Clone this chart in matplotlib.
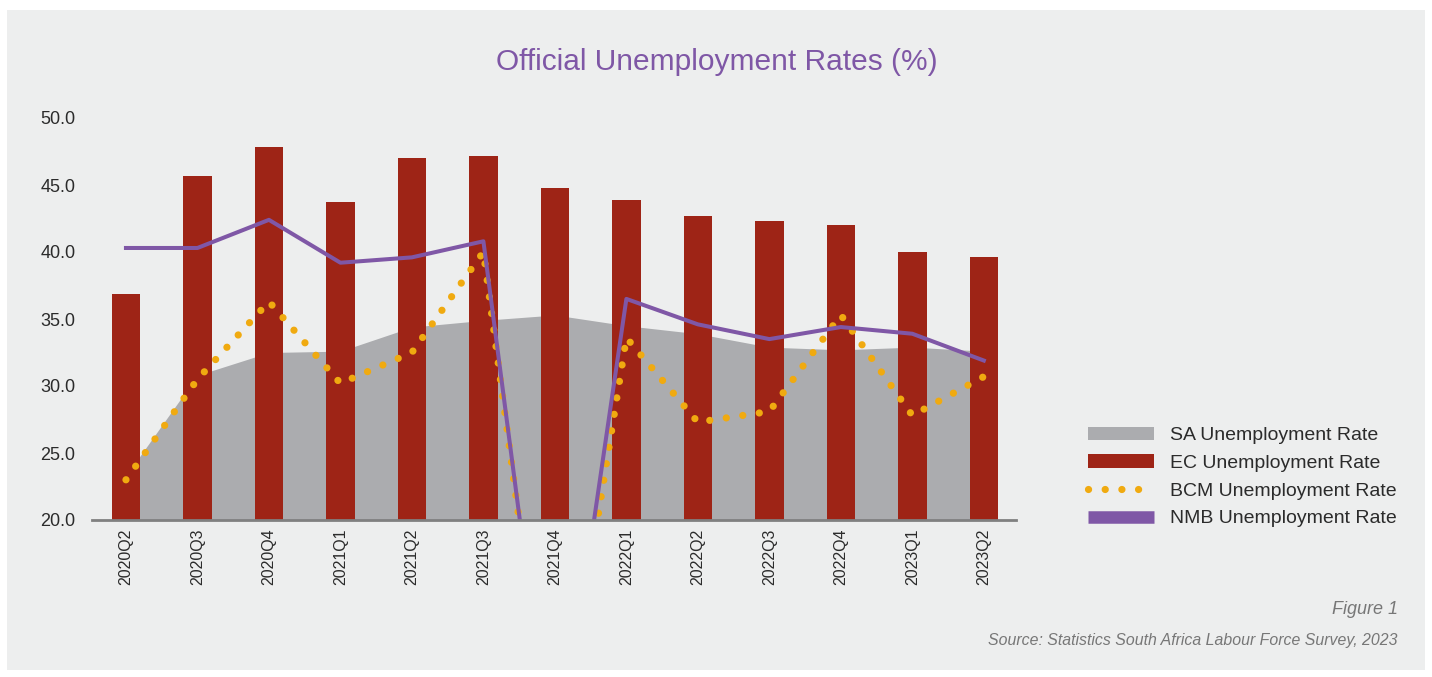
import matplotlib.pyplot as plt
from matplotlib.patches import Patch, Rectangle
from matplotlib.lines import Line2D
import numpy as np

quarters = ['2020Q2', '2020Q3', '2020Q4', '2021Q1', '2021Q2', '2021Q3', '2021Q4',
            '2022Q1', '2022Q2', '2022Q3', '2022Q4', '2023Q1', '2023Q2']
sa_rate = [23.3, 30.8, 32.5, 32.6, 34.4, 34.9, 35.3, 34.5, 33.9, 32.9, 32.7, 32.9, 32.6]
ec_rate = [36.9, 45.7, 47.8, 43.7, 47.0, 47.2, 44.8, 43.9, 42.7, 42.3, 42.0, 40.0, 39.6]
bcm_rate = [23.0, 30.5, 36.3, 30.2, 32.5, 40.0, 0.0, 33.6, 27.3, 28.1, 35.3, 27.8, 30.7]
nmb_rate = [40.3, 40.3, 42.4, 39.2, 39.6, 40.8, 0.0, 36.5, 34.6, 33.5, 34.4, 33.9, 31.9]

BG = '#edeeee'
GREY = '#abacaf'
RED = '#9e2416'
GOLD = '#f0aa10'
PURPLE = '#7f57a6'

plt.rcParams['font.family'] = ['Liberation Sans', 'DejaVu Sans']

fig = plt.figure(figsize=(14.32, 6.77), dpi=100)
fig.patch.set_facecolor('white')
# grey panel behind everything
fig.patches.append(Rectangle((7 / 1432, 7 / 677), 1418 / 1432, 660 / 677,
                             transform=fig.transFigure, facecolor=BG,
                             edgecolor='none', zorder=-10))

ax = fig.add_axes([92 / 1432, 1 - 520 / 677, 924 / 1432, 402 / 677])
ax.set_facecolor('none')

x = np.arange(len(quarters))
dots = (0, (0.01, 2.3))
ax.fill_between(x, 0, sa_rate, color=GREY, linewidth=0, zorder=1)
ax.bar(x, ec_rate, width=0.4, color=RED, zorder=2)
ax.plot(x, bcm_rate, color=GOLD, linewidth=5.2, linestyle=dots,
        dash_capstyle='round', zorder=3)
ax.plot(x, nmb_rate, color=PURPLE, linewidth=2.9, zorder=4)

ax.set_xlim(-0.475, 12.45)
ax.set_ylim(20, 50)
ax.set_yticks([20, 25, 30, 35, 40, 45, 50])
ax.set_yticklabels(['%.1f' % v for v in [20, 25, 30, 35, 40, 45, 50]])
ax.set_xticks(x)
ax.set_xticklabels(quarters, rotation=90)
ax.tick_params(axis='both', length=0, colors='#2b2b2b')
ax.tick_params(axis='y', pad=12, labelsize=13)
ax.tick_params(axis='x', pad=6, labelsize=11.5)
for side in ['left', 'right', 'top']:
    ax.spines[side].set_visible(False)
ax.spines['bottom'].set_color('#808080')
ax.spines['bottom'].set_linewidth(2)
ax.spines['bottom'].set_zorder(5)

fig.text(717 / 1432, 1 - 62 / 677, 'Official Unemployment Rates (%)',
         ha='center', va='center', fontsize=21.5, color=PURPLE)

handles = [
    Patch(facecolor=GREY, label='SA Unemployment Rate'),
    Patch(facecolor=RED, label='EC Unemployment Rate'),
    Line2D([], [], color=GOLD, linewidth=5.2, linestyle=dots,
           dash_capstyle='round', label='BCM Unemployment Rate'),
    Line2D([], [], color=PURPLE, linewidth=9, solid_capstyle='butt',
           label='NMB Unemployment Rate'),
]
fig.legend(handles=handles, loc='center left',
           bbox_to_anchor=(1088 / 1432, 1 - 477 / 677), frameon=False,
           borderpad=0, borderaxespad=0,
           fontsize=14, handlelength=3.4, handleheight=0.7,
           labelspacing=0.52, handletextpad=0.8, labelcolor='#2b2b2b')

fig.text(1398 / 1432, 1 - 609 / 677, 'Figure 1', ha='right', va='center',
         fontsize=13, style='italic', color='#777777')
fig.text(1398 / 1432, 1 - 640 / 677,
         'Source: Statistics South Africa Labour Force Survey, 2023',
         ha='right', va='center', fontsize=11.4, style='italic', color='#777777')

fig.savefig('out.png', dpi=100, facecolor=fig.get_facecolor())
